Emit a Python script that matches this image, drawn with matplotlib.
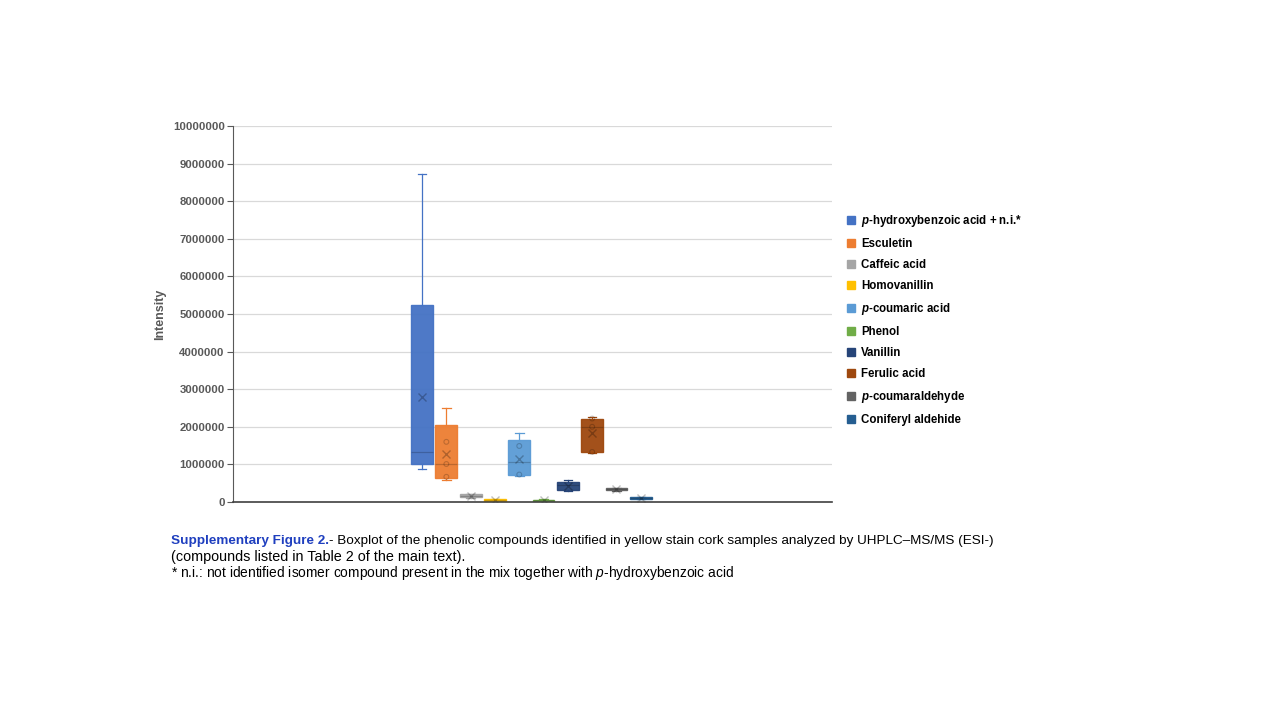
import matplotlib
matplotlib.use('Agg')
import matplotlib.pyplot as plt
from matplotlib.lines import Line2D
import numpy as np

plt.rcParams['font.family'] = ['Liberation Sans', 'DejaVu Sans']
plt.rcParams['mathtext.fontset'] = 'custom'
plt.rcParams['mathtext.it'] = 'Liberation Sans:italic'
plt.rcParams['mathtext.bf'] = 'Liberation Sans:italic:bold'
plt.rcParams['mathtext.rm'] = 'Liberation Sans'

compounds = ['$\\mathbf{p}$-hydroxybenzoic acid + n.i.*', 'Esculetin', 'Caffeic acid',
             'Homovanillin', '$\\mathbf{p}$-coumaric acid', 'Phenol', 'Vanillin',
             'Ferulic acid', '$\\mathbf{p}$-coumaraldehyde', 'Coniferyl aldehide']
colors = ['#4472C4', '#ED7D31', '#A5A5A5', '#FFC000', '#5B9BD5',
          '#70AD47', '#264478', '#9E480E', '#636363', '#255E91']

# box statistics
whislo = [870000, 590000, 110000, 0, 690000, 0, 280000, 1300000, 300000, 80000]
q1 = [1010000, 630000, 120000, 10000, 730000, 10000, 320000, 1330000, 310000, 90000]
med = [1340000, 1010000, 160000, 40000, 1060000, 40000, 450000, 2000000, 340000, 110000]
q3 = [5240000, 2050000, 200000, 70000, 1650000, 60000, 540000, 2220000, 370000, 130000]
whishi = [8720000, 2500000, 210000, 80000, 1830000, 70000, 590000, 2250000, 380000, 140000]
means = [2780000, 1280000, 160000, 40000, 1140000, 40000, 430000, 1830000, 340000, 110000]
inner_points = [[], [1600000, 1010000, 670000], [], [], [1490000, 730000], [],
                [], [2220000, 2000000, 1330000], [], []]

yticks = np.arange(0, 10000001, 1000000)

fig = plt.figure(figsize=(12.8, 7.2), dpi=100)
ax = fig.add_axes([233 / 1280, 1 - 502 / 720, 599 / 1280, 376 / 720])

positions = np.arange(1, len(compounds) + 1)
for i, pos in enumerate(positions):
    stats = [dict(whislo=whislo[i], q1=q1[i], med=med[i], q3=q3[i], whishi=whishi[i],
                  mean=means[i], fliers=[])]
    ax.bxp(stats, positions=[pos], widths=0.9, patch_artist=True, showmeans=True,
           showfliers=False,
           boxprops=dict(facecolor=colors[i], edgecolor=colors[i], linewidth=1.0, alpha=0.95),
           whiskerprops=dict(color=colors[i], linewidth=0.9),
           capprops=dict(color=colors[i], linewidth=0.9),
           capwidths=0.35,
           medianprops=dict(color='#000000', alpha=0.2, linewidth=0.9),
           meanprops=dict(marker='x', markeredgecolor='#000000', alpha=0.25,
                          markersize=6, markeredgewidth=1.0))
    if inner_points[i]:
        ax.scatter([pos] * len(inner_points[i]), inner_points[i], s=12, facecolors='none',
                   edgecolors='#000000', alpha=0.2, linewidths=0.8, zorder=4)

ax.set_xlim(5.5 - 12.28, 5.5 + 12.37)
ax.set_ylim(0, 10000000)
ax.set_yticks(yticks)
ax.set_yticklabels([str(v) for v in yticks])
ax.set_xticks([])
ax.yaxis.grid(True, color='#D9D9D9', linewidth=0.9)
ax.set_axisbelow(True)
for s in ['top', 'right']:
    ax.spines[s].set_visible(False)
ax.spines['left'].set_color('#595959')
ax.spines['bottom'].set_color('#404040')
ax.spines['bottom'].set_linewidth(1.2)
ax.tick_params(axis='y', length=4, color='#595959', labelsize=8.2, labelcolor='#595959', pad=2)
for lbl in ax.get_yticklabels():
    lbl.set_fontweight('bold')
ax.set_ylabel('Intensity', fontsize=9, fontweight='bold', color='#595959', labelpad=5)

handles = [Line2D([], [], linestyle='none', marker='s', markersize=6,
                  markerfacecolor=c, markeredgecolor=c) for c in colors]
fig.legend(handles, compounds, loc='upper left', bbox_to_anchor=(836 / 1280, 1 - 203 / 720),
           frameon=False, handlelength=0.8, handletextpad=0.5, labelspacing=0.78,
           prop=dict(size=8.3, weight='bold'))

# caption
t1 = fig.text(171 / 1280, 1 - 547 / 720, 'Supplementary Figure 2.', color='#1F3FBF',
              fontsize=9.7, fontweight='bold', va='bottom', ha='left')
ax.annotate('- Boxplot of the phenolic compounds identified in yellow stain cork samples '
            'analyzed by UHPLC\u2013MS/MS (ESI-)', xy=(1, 0), xycoords=t1,
            fontsize=9.7, va='bottom', ha='left', color='#000000', annotation_clip=False)
fig.text(171 / 1280, 1 - 564 / 720, '(compounds listed in Table 2 of the main text).',
         fontsize=10.4, va='bottom', ha='left')
fig.text(171 / 1280, 1 - 582 / 720,
         '* n.i.: not identified isomer compound present in the mix together with '
         '$p$-hydroxybenzoic acid', fontsize=9.9, va='bottom', ha='left')

fig.savefig('out.png', dpi=100)
